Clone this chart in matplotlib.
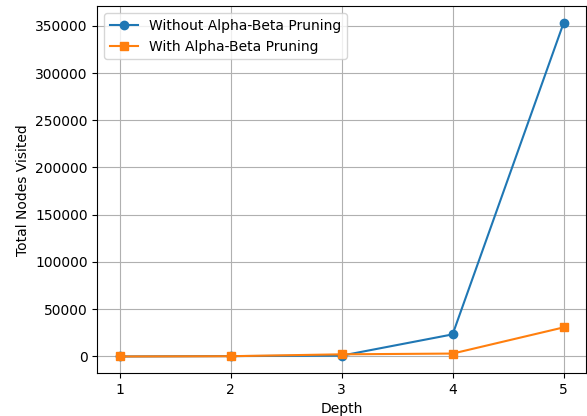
import matplotlib.pyplot as plt

depths = [1, 2, 3, 4, 5]
nodes_without = [20, 420, 900, 23400, 353000]
nodes_with = [20, 300, 2300, 3100, 30800]

fig, ax = plt.subplots(figsize=(5.87, 4.16), dpi=100)
fig.subplots_adjust(left=0.166, right=0.998, top=0.985, bottom=0.103)

ax.plot(depths, nodes_without, marker="o", label="Without Alpha-Beta Pruning")
ax.plot(depths, nodes_with, marker="s", label="With Alpha-Beta Pruning")

ax.set_xlabel("Depth")
ax.set_ylabel("Total Nodes Visited")
ax.set_xticks(depths)
ax.grid(True)
ax.legend(loc="upper left")

fig.savefig("out.png", dpi=100)
